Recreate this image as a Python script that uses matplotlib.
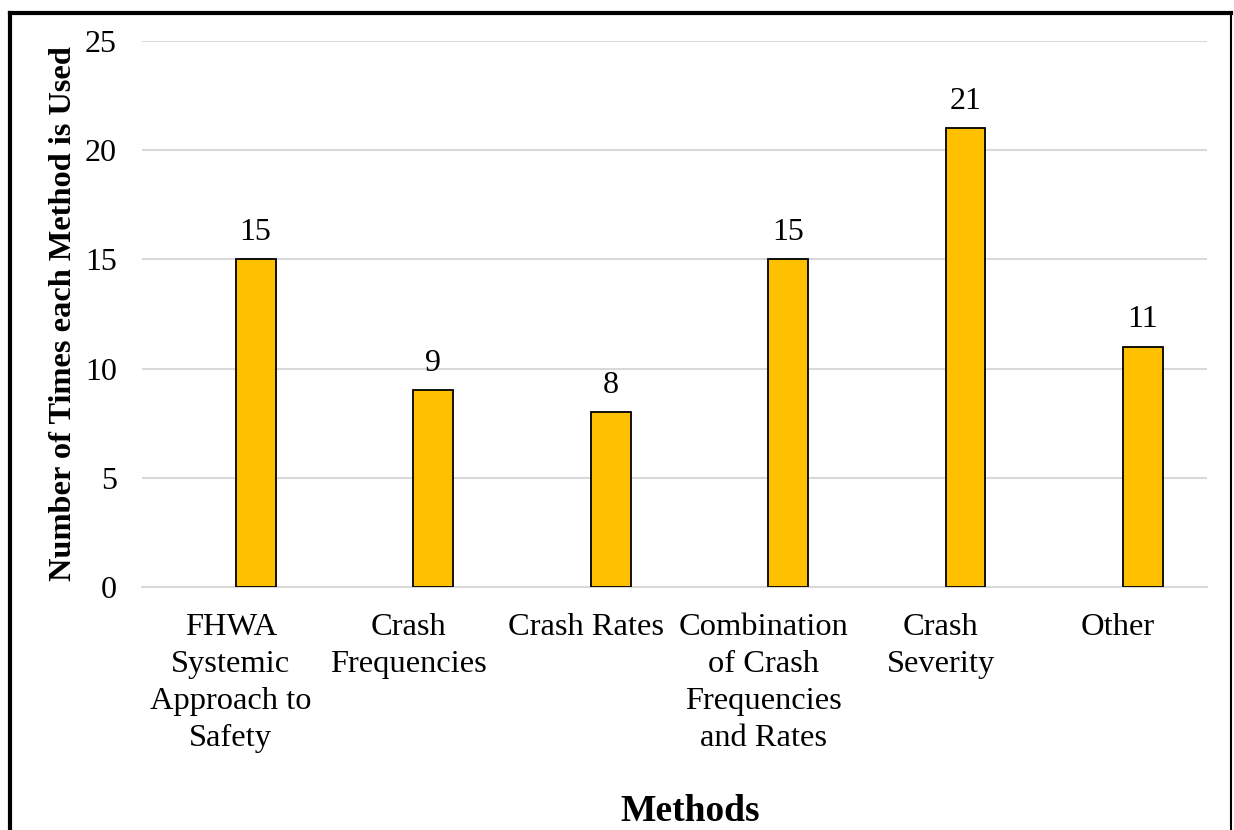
import matplotlib.pyplot as plt
from matplotlib.lines import Line2D
import numpy as np

categories = ["FHWA\nSystemic\nApproach to\nSafety", "Crash\nFrequencies", "Crash Rates",
              "Combination\nof Crash\nFrequencies\nand Rates", "Crash\nSeverity", "Other"]
counts = [15, 9, 8, 15, 21, 11]

plt.rcParams["font.family"] = ["Liberation Serif", "DejaVu Serif"]

fig = plt.figure(figsize=(12.34, 8.3), dpi=100)
ax = fig.add_axes([0.1151, 0.2928, 0.978 - 0.1151, 0.9506 - 0.2928])

x = np.arange(len(categories))
bars = ax.bar(x + 0.14, counts, width=0.225, color="#FFC000", edgecolor="black",
              linewidth=1.3, zorder=3)
for b, v in zip(bars, counts):
    ax.annotate(str(v), (b.get_x() + b.get_width() / 2, v), xytext=(0, 9),
                textcoords="offset points", ha="center", va="bottom", fontsize=23)

ax.set_xlim(-0.5, len(categories) - 0.5)
ax.set_ylim(0, 25)
ax.set_yticks(range(0, 26, 5))
ax.set_xticks(x)
ax.set_xticklabels(categories, fontsize=23.4, linespacing=1.36)
ax.tick_params(axis="y", labelsize=23, length=0, pad=18)
ax.tick_params(axis="x", length=0, pad=19)
ax.grid(axis="y", color="#d9d9d9", lw=1.5, zorder=0)
for s in ["top", "right", "left"]:
    ax.spines[s].set_visible(False)
ax.spines["bottom"].set_color("#d9d9d9")
ax.spines["bottom"].set_linewidth(1.5)

fig.text(64 / 1234, 1 - 314 / 830, "Number of Times each Method is Used", rotation=90,
         ha="center", va="center", fontsize=23.3, fontweight="bold")
fig.text(690 / 1234, 1 - 811 / 830, "Methods", ha="center", va="center",
         fontsize=27, fontweight="bold")

# outer frame (bottom edge is cropped off in the original)
fig.add_artist(Line2D([10 / 1234, 1231 / 1234], [1 - 13 / 830, 1 - 13 / 830],
                      color="black", lw=3, transform=fig.transFigure))
fig.add_artist(Line2D([10 / 1234, 10 / 1234], [0, 1 - 13 / 830],
                      color="black", lw=3, transform=fig.transFigure))
fig.add_artist(Line2D([1231 / 1234, 1231 / 1234], [0, 1 - 13 / 830],
                      color="black", lw=1.5, transform=fig.transFigure))

fig.savefig("out.png", dpi=100)
